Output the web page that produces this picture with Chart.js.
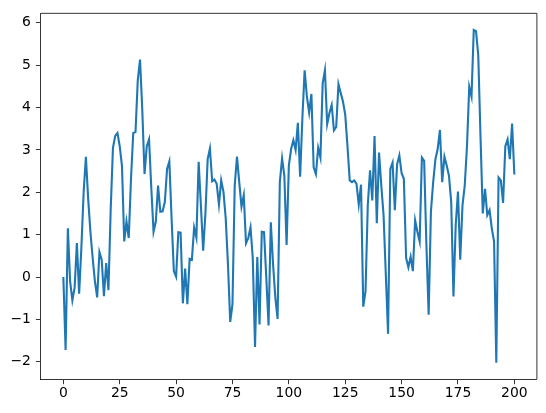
<!DOCTYPE html>
<html>
<head>
<meta charset="utf-8">
<script src="https://cdn.jsdelivr.net/npm/chart.js@4/dist/chart.umd.min.js"></script>
<style>
  html, body { margin: 0; padding: 0; background: #fff; }
  #wrap { width: 546px; height: 413px; }
</style>
</head>
<body>
<div id="wrap"><canvas id="myChart" width="546" height="413"></canvas></div>
<script>
// series values, one per step
const values = [
  0, -1.72, 1.15, -0.1, -0.55, -0.25, 0.8, -0.39, 0.7, 2.0,
  2.84, 1.85, 1.07, 0.45, -0.1, -0.48, 0.59, 0.41, -0.45, 0.33,
  -0.31, 1.6, 3.05, 3.33, 3.40, 3.09, 2.62, 0.84, 1.31, 0.92,
  2.32, 3.40, 3.42, 4.64, 5.13, 3.95, 2.43, 3.09, 3.25, 2.1,
  1.07, 1.31, 2.16, 1.54, 1.55, 1.77, 2.55, 2.73, 1.38, 0.14,
  0.01, 1.06, 1.05, -0.62, 0.2, -0.64, 0.43, 0.41, 1.17, 0.93,
  2.72, 1.69, 0.62, 1.5, 2.78, 3.03, 2.26, 2.30, 2.20, 1.71,
  2.28, 2.01, 1.39, 0.30, -1.06, -0.64, 2.16, 2.84, 2.24, 1.66,
  1.93, 0.80, 0.92, 1.17, 0.45, -1.65, 0.47, -1.12, 1.07, 1.06,
  -0.02, -1.14, 1.29, 0.30, -0.48, -0.99, 2.24, 2.80, 2.39, 0.76,
  2.63, 3.02, 3.23, 3.0, 3.64, 2.37, 3.75, 4.88, 4.26, 3.88,
  4.32, 2.59, 2.43, 3.05, 2.82, 4.57, 4.88, 3.61, 3.87, 4.06,
  3.46, 3.54, 4.55, 4.34, 4.14, 3.83, 3.09, 2.28, 2.24, 2.28,
  2.20, 1.71, 2.18, -0.70, -0.33, 1.69, 2.52, 1.81, 3.33, 1.27,
  2.94, 2.16, 1.46, 0.06, -1.34, 2.55, 2.70, 1.58, 2.66, 2.87,
  2.45, 2.32, 0.45, 0.23, 0.48, 0.14, 1.34, 1.07, 0.84, 2.82,
  2.74, 0.76, -0.89, 1.54, 2.24, 2.78, 3.02, 3.47, 2.24, 2.84,
  2.63, 2.39, 1.77, -0.46, 1.23, 2.02, 0.41, 1.69, 2.16, 3.09,
  4.49, 4.26, 5.83, 5.80, 5.23, 3.3, 1.50, 2.08, 1.46, 1.58,
  1.15, 0.84, -2.02, 2.35, 2.28, 1.75, 3.09, 3.25, 2.78, 3.62,
  2.42
];
// step numbers (x categories)
const steps = values.map((v, i) => i);

// tick labels
const xTicks = [0, 25, 50, 75, 100, 125, 150, 175, 200];
const yTicks = [-2, -1, 0, 1, 2, 3, 4, 5, 6];

// matplotlib style 5% margins
const xSpan = steps[steps.length - 1] - steps[0];
const yLo = Math.min(...values), yHi = Math.max(...values);
const ySpan = yHi - yLo;

const fmt = (v) => v < 0 ? '\u2212' + Math.abs(v) : String(v);

const tickFont = { family: 'DejaVu Sans', size: 13.9 };

// top and right spines
const frame = {
  id: 'frame',
  afterDraw(chart) {
    const a = chart.chartArea, c = chart.ctx;
    c.save();
    c.strokeStyle = '#000';
    c.lineWidth = 0.8;
    c.beginPath();
    c.moveTo(a.left, a.top);
    c.lineTo(a.right, a.top);
    c.lineTo(a.right, a.bottom);
    c.stroke();
    c.restore();
  }
};

const ctx = document.getElementById('myChart');
const chart = new Chart(ctx, {
  type: 'line',
  data: {
    datasets: [{
      data: steps.map((s, i) => ({ x: s, y: values[i] })),
      borderColor: '#1f77b4',
      borderWidth: 2.1,
      pointRadius: 0,
      tension: 0,
      fill: false
    }]
  },
  options: {
    responsive: false,
    animation: false,
    layout: { padding: { top: 10.3, right: 9.1, left: 0, bottom: 0 } },
    plugins: { legend: { display: false }, tooltip: { enabled: false } },
    scales: {
      x: {
        type: 'linear',
        min: steps[0] - 0.05 * xSpan,
        max: steps[steps.length - 1] + 0.05 * xSpan,
        afterBuildTicks: (s) => { s.ticks = xTicks.map(v => ({ value: v })); },
        afterFit: (s) => { s.height = 33.7; },
        grid: { display: true, drawOnChartArea: false, drawTicks: true, tickLength: 4.9, color: '#000', lineWidth: 0.8 },
        border: { display: true, color: '#000', width: 0.8 },
        ticks: { color: '#000', font: tickFont, padding: 0.6, maxRotation: 0, callback: fmt }
      },
      y: {
        type: 'linear',
        min: yLo - 0.05 * ySpan,
        max: yHi + 0.05 * ySpan,
        afterBuildTicks: (s) => { s.ticks = yTicks.map(v => ({ value: v })); },
        afterFit: (s) => { s.width = 40.8; },
        grid: { display: true, drawOnChartArea: false, drawTicks: true, tickLength: 4.9, color: '#000', lineWidth: 0.8 },
        border: { display: true, color: '#000', width: 0.8 },
        ticks: { color: '#000', font: tickFont, padding: 5, callback: fmt }
      }
    }
  },
  plugins: [frame]
});
</script>
</body>
</html>
